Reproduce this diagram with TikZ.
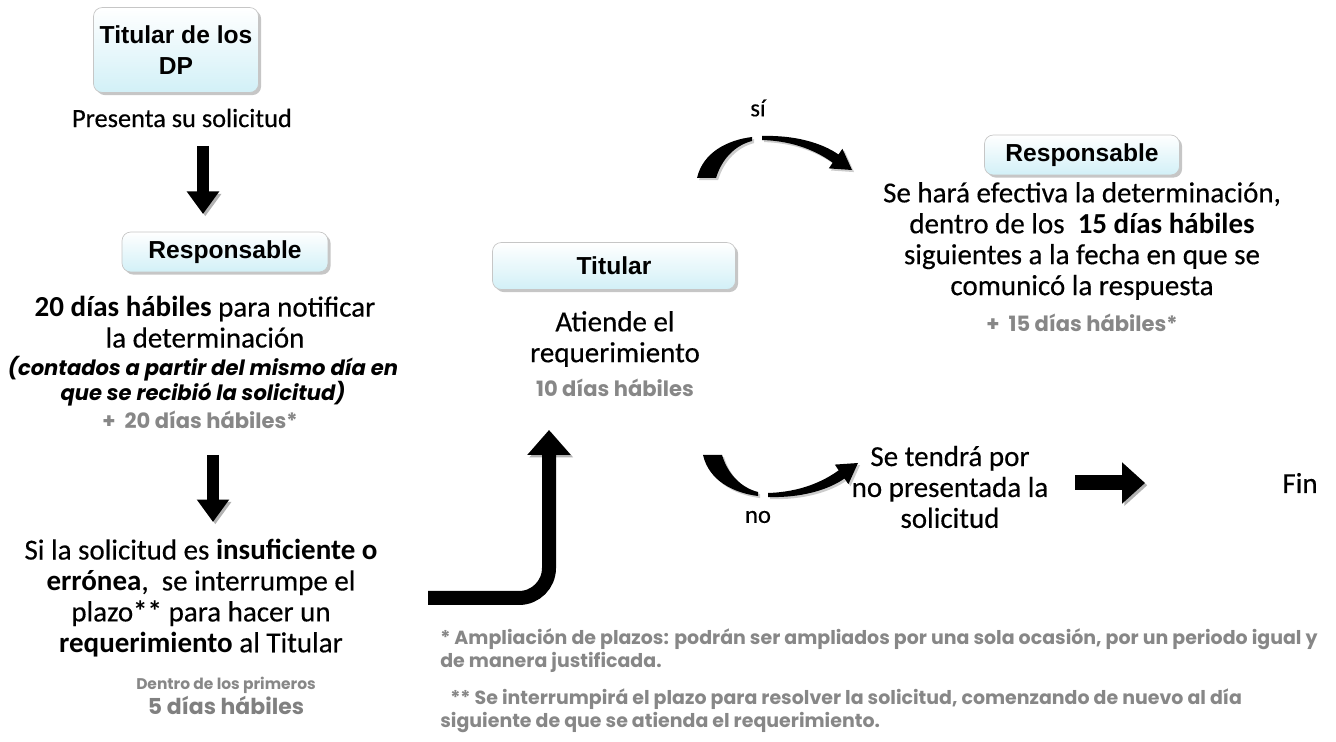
\documentclass[tikz,border=0pt]{standalone}
\usepackage{fontspec}
\setmainfont{Carlito}[UprightFeatures={FakeBold=0.4}]
\newfontfamily\cajafont{Liberation Sans}
\newfontfamily\grisfont{Poppins}
\usetikzlibrary{arrows.meta,shadows}

\definecolor{cielo}{RGB}{210,240,247}
\definecolor{grisnota}{RGB}{135,135,135}

\tikzset{
  caja/.style={rounded corners=5pt, draw=gray!45, top color=white, bottom color=cielo,
    drop shadow={shadow xshift=1.5pt, shadow yshift=-1.5pt, opacity=0.45},
    align=center, inner sep=2pt, font=\cajafont\bfseries\fontsize{14}{18}\selectfont},
  cuerpo/.style={align=center, inner sep=0pt, font=\fontsize{16.5}{17.6}\selectfont},
  cursiva/.style={align=center, inner sep=0pt, font=\grisfont\bfseries\itshape\fontsize{12}{14.2}\selectfont},
  gris/.style={align=center, inner sep=0pt, text=grisnota, font=\grisfont\bfseries\fontsize{12}{15}\selectfont},
  nota/.style={align=left, inner sep=0pt, text=grisnota, font=\grisfont\bfseries\fontsize{10.8}{13}\selectfont},
  flecha/.style={draw=black, line width=0.24cm, -{Triangle[width=0.62cm,length=0.45cm]},
    preaction={draw=gray!60, transform canvas={xshift=1.3pt, yshift=-1.3pt}}},
  curva/.style={fill=black, drop shadow={shadow xshift=1.2pt, shadow yshift=-1.2pt, opacity=0.4}}
}

\begin{document}
\begin{tikzpicture}[x=0.02cm, y=-0.02cm]
    \useasboundingbox (0,0) rectangle (1336,742);

    % Left column
    \node[caja, minimum width=3.3cm, minimum height=1.7cm] (tdp) at (176,50) {Titular de los\\DP};
    \node[cuerpo, font=\fontsize{15}{17}\selectfont] (pres) at (182,118) {Presenta su solicitud};
    \node[caja, minimum width=4.12cm, minimum height=0.8cm] (resp1) at (225,252) {Responsable};
    \node[cuerpo] (det) at (205,322) {\textbf{20 días hábiles} para notificar\\la determinación};
    \node[cursiva] (cont) at (203,381) {(contados a partir del mismo día en\\que se recibió la solicitud)};
    \node[gris] (mas20) at (200,420) {+\ \ 20 días hábiles*};
    \node[cuerpo] (insu) at (201,598) {Si la solicitud es \textbf{insuficiente o}\\\textbf{errónea}, \ se interrumpe el\\plazo\textbf{**} para hacer un\\\textbf{requerimiento} al Titular};
    \node[gris, font=\grisfont\bfseries\fontsize{8.8}{13}\selectfont] (dentro) at (226,696) {Dentro de los primeros\\[1pt]{\fontsize{12.5}{14}\selectfont\color{gray} 5 días hábiles}};

    % Middle column
    \node[caja, minimum width=4.86cm, minimum height=0.94cm] (tit) at (614,266) {Titular};
    \node[cuerpo] (aten) at (615,339) {Atiende el\\requerimiento};
    \node[gris] (diez) at (615,388) {10 días hábiles};
    \node[cuerpo, font=\fontsize{14}{16}\selectfont] (si) at (758,108) {sí};
    \node[cuerpo, font=\fontsize{14}{16}\selectfont] (no) at (758,517) {no};

    % Right column
    \node[caja, minimum width=3.9cm, minimum height=0.8cm] (resp2) at (1082,155) {Responsable};
    \node[cuerpo] (efec) at (1082,241) {Se hará efectiva la determinación,\\dentro de los \ \textbf{15 días hábiles}\\siguientes a la fecha en que se\\comunicó la respuesta};
    \node[gris] (mas15) at (1082,323) {+\ \ 15 días hábiles*};
    \node[cuerpo] (tend) at (950,487) {Se tendrá por\\no presentada la\\solicitud};
    \node[cuerpo] (fin) at (1300,483) {Fin};

    % Notes
    \node[nota, anchor=west] (nota1) at (440,651) {* Ampliación de plazos: podrán ser ampliados por una sola ocasión, por un periodo igual y\\de manera justificada.};
    \node[nota, anchor=west] (nota2) at (440,711) {\hspace{0.2cm}** Se interrumpirá el plazo para resolver la solicitud, comenzando de nuevo al día\\siguiente de que se atienda el requerimiento.};

    % Straight arrows
    \coordinate (a1) at (203,146);
    \coordinate (a2) at (203,214);
    \coordinate (b1) at (213,455);
    \coordinate (b2) at (213,522);
    \coordinate (c1) at (428,598);
    \coordinate (c2) at (549,430);
    \coordinate (d1) at (1075,483);
    \coordinate (d2) at (1145,483);
    \draw[flecha] (a1) -- (a2);
    \draw[flecha] (b1) -- (b2);
    \draw[flecha, line width=0.28cm, -{Triangle[width=0.84cm,length=0.5cm]}, rounded corners=0.6cm] (c1) -- (c1 -| c2) -- (c2);
    \draw[flecha, line width=0.3cm, -{Triangle[width=0.8cm,length=0.46cm]}] (d1) -- (d2);

    % Curved arrows (si)
    \fill[curva] (697,178) .. controls (703,152) and (728,140) .. (752,137) -- (752,141) .. controls (736,145) and (722,158) .. (716,178) -- cycle;
    \fill[curva] (762,136) .. controls (795,135) and (822,143) .. (838.5,154.5) -- (842.4,148.8) -- (852,170) -- (828.8,168.4) -- (832.7,162.7) .. controls (818,152) and (795,141) .. (762,140) -- cycle;

    % Curved arrows (no)
    \begin{scope}[shift={(6,633)}, yscale=-1]
      \fill[curva] (697,178) .. controls (703,152) and (728,140) .. (752,137) -- (752,141) .. controls (736,145) and (722,158) .. (716,178) -- cycle;
      \fill[curva] (762,136) .. controls (795,135) and (822,143) .. (838.5,154.5) -- (842.4,148.8) -- (852,170) -- (828.8,168.4) -- (832.7,162.7) .. controls (818,152) and (795,141) .. (762,140) -- cycle;
    \end{scope}
\end{tikzpicture}
\end{document}
